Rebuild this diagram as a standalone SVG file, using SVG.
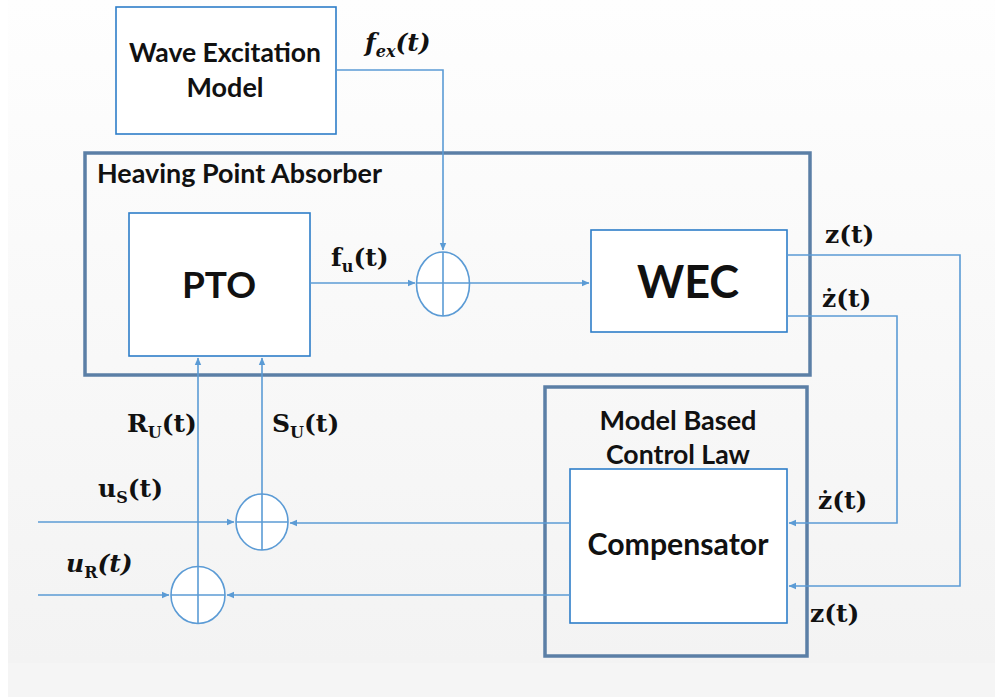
<svg xmlns="http://www.w3.org/2000/svg" width="995" height="697" viewBox="0 0 995 697">
<defs>
<linearGradient id="bg" x1="0" y1="0" x2="0" y2="1">
<stop offset="0" stop-color="#fefefe"/>
<stop offset="1" stop-color="#f3f3f3"/>
</linearGradient>
<marker id="arr" markerWidth="8" markerHeight="8" refX="7" refY="4" orient="auto" markerUnits="userSpaceOnUse">
<path d="M0,0.8 L7.5,4 L0,7.2 Z" fill="#5b9bd5"/>
</marker>
<style>
.blk{fill:#fff;stroke:#2e7ec9;stroke-width:1.6}
.grp{fill:none;stroke:#5b7fa6;stroke-width:3.5}
.ln{fill:none;stroke:#5b9bd5;stroke-width:1.6}
.sum{fill:#fff;stroke:#5b9bd5;stroke-width:1.6}
.lbl{font-family:Lato,"Open Sans",sans-serif;font-weight:bold;fill:#111}
.m{font-family:"DejaVu Serif","Liberation Serif",serif;font-weight:bold;fill:#111;font-size:25px}
.sub{font-size:16px}
</style>
</defs>
<rect x="0" y="0" width="995" height="697" fill="#ffffff"/>
<rect x="8" y="0" width="987" height="663" fill="url(#bg)"/>
<rect x="8" y="663" width="987" height="34" fill="#f5f5f5"/>

<g id="heaving-point-absorber">
<rect class="grp" x="85" y="153" width="725" height="222"/>
<text class="lbl" x="97" y="183" font-size="26" textLength="285" lengthAdjust="spacingAndGlyphs">Heaving Point Absorber</text>
</g>
<g id="model-based-control-law">
<rect class="grp" x="545" y="387" width="262" height="269"/>
<text class="lbl" x="678" y="430" font-size="26" text-anchor="middle" textLength="157" lengthAdjust="spacingAndGlyphs">Model Based</text>
<text class="lbl" x="678" y="464" font-size="26" text-anchor="middle" textLength="144" lengthAdjust="spacingAndGlyphs">Control Law</text>
</g>
<g id="wave-excitation-model">
<rect class="blk" x="116" y="7" width="220" height="127"/>
<text class="lbl" x="225" y="62" font-size="26" text-anchor="middle" textLength="192" lengthAdjust="spacingAndGlyphs">Wave Excitation</text>
<text class="lbl" x="225" y="97" font-size="26" text-anchor="middle" textLength="77" lengthAdjust="spacingAndGlyphs">Model</text>
</g>
<g id="pto">
<rect class="blk" x="129" y="213" width="181" height="143"/>
<text class="lbl" x="219" y="298" font-size="37" text-anchor="middle">PTO</text>
</g>
<g id="wec">
<rect class="blk" x="591" y="230" width="196" height="102"/>
<text class="lbl" x="688" y="298" font-size="45" text-anchor="middle">WEC</text>
</g>
<g id="compensator">
<rect class="blk" x="570" y="469" width="217" height="154"/>
<text class="lbl" x="678" y="555" font-size="30" text-anchor="middle" textLength="181" lengthAdjust="spacingAndGlyphs">Compensator</text>
</g>
<g id="sum-main">
<ellipse class="sum" cx="443" cy="284" rx="26.5" ry="32"/>
</g>
<g id="sum-s">
<ellipse class="sum" cx="262" cy="522" rx="26" ry="28"/>
</g>
<g id="sum-r">
<ellipse class="sum" cx="198" cy="595" rx="27" ry="28.5"/>
</g>

<g id="connectors">
<path class="ln" d="M336,70 H443 V250" marker-end="url(#arr)"/>
<path class="ln" d="M443,252 V316"/>
<path class="ln" d="M310,283 H415" marker-end="url(#arr)"/>
<path class="ln" d="M416.5,283 H589" marker-end="url(#arr)"/>
<path class="ln" d="M787,255 H960 V586 H789" marker-end="url(#arr)"/>
<path class="ln" d="M787,316 H897 V523 H789" marker-end="url(#arr)"/>
<path class="ln" d="M570,523 H290" marker-end="url(#arr)"/>
<path class="ln" d="M570,595 H227" marker-end="url(#arr)"/>
<path class="ln" d="M38,522 H234" marker-end="url(#arr)"/>
<path class="ln" d="M236,522 H288"/>
<path class="ln" d="M38,595 H169" marker-end="url(#arr)"/>
<path class="ln" d="M171,595 H225"/>
<path class="ln" d="M198,623.5 V358" marker-end="url(#arr)"/>
<path class="ln" d="M262,550 V358" marker-end="url(#arr)"/>
</g>

<g id="labels">
<text class="m" x="365" y="51" font-style="italic" font-size="28">f<tspan class="sub" dy="6" font-size="18">ex</tspan><tspan dy="-6">(t)</tspan></text>
<text class="m" x="331" y="266">f<tspan class="sub" dy="6">u</tspan><tspan dy="-6">(t)</tspan></text>
<text class="m" x="825" y="243">z(t)</text>
<text class="m" x="822" y="307">ż(t)</text>
<text class="m" x="818" y="509">ż(t)</text>
<text class="m" x="810" y="622">z(t)</text>
<text class="m" x="127" y="432">R<tspan class="sub" dy="6">U</tspan><tspan dy="-6">(t)</tspan></text>
<text class="m" x="272" y="432">S<tspan class="sub" dy="6">U</tspan><tspan dy="-6">(t)</tspan></text>
<text class="m" x="98" y="497">u<tspan class="sub" dy="6">S</tspan><tspan dy="-6">(t)</tspan></text>
<text class="m" x="66" y="572"><tspan font-style="italic">u</tspan><tspan class="sub" dy="6">R</tspan><tspan dy="-6" font-style="italic">(t)</tspan></text>
</g>
</svg>
